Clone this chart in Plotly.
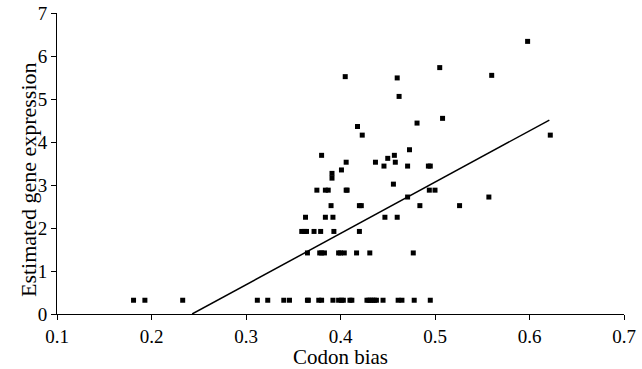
import plotly.graph_objects as go

# Scatter data: codon bias (x) and estimated gene expression (y)
row_032_x = [0.181, 0.193, 0.233, 0.312, 0.323, 0.340, 0.346, 0.365, 0.366, 0.377, 0.380,
             0.392, 0.398, 0.401, 0.403, 0.410, 0.412, 0.428, 0.430, 0.432, 0.434, 0.436,
             0.438, 0.445, 0.461, 0.465, 0.478, 0.495]
row_142_x = [0.365, 0.378, 0.380, 0.383, 0.398, 0.400, 0.404, 0.417, 0.431, 0.477]
row_192_x = [0.359, 0.362, 0.364, 0.372, 0.379, 0.393, 0.420]
row_225_x = [0.363, 0.384, 0.392, 0.447, 0.460]
row_252_x = [0.390, 0.420, 0.422, 0.484, 0.526]
row_272_x = [0.471, 0.557]
row_288_x = [0.375, 0.384, 0.387, 0.406, 0.407, 0.494, 0.500]
other_x = [0.456, 0.391, 0.391, 0.401, 0.446, 0.471, 0.493, 0.495, 0.406, 0.437, 0.458,
           0.450, 0.380, 0.457, 0.473, 0.622, 0.423, 0.418, 0.481, 0.508, 0.462, 0.460,
           0.405, 0.560, 0.505, 0.598]
other_y = [3.02, 3.16, 3.27, 3.35, 3.44, 3.44, 3.44, 3.44, 3.53, 3.53, 3.53,
           3.62, 3.69, 3.69, 3.82, 4.16, 4.16, 4.36, 4.44, 4.55, 5.06, 5.49,
           5.52, 5.55, 5.73, 6.34]

row_levels = [0.32, 1.42, 1.92, 2.25, 2.52, 2.72, 2.88]
row_lists = [row_032_x, row_142_x, row_192_x, row_225_x, row_252_x, row_272_x, row_288_x]

# Regression line end points
trend_x = [0.243, 0.621]
trend_y = [0.0, 4.51]

x_ticks = [0.1, 0.2, 0.3, 0.4, 0.5, 0.6, 0.7]
y_ticks = [0, 1, 2, 3, 4, 5, 6, 7]

x_title = "Codon bias"
y_title = "Estimated gene expression"

xs, ys = [], []
for lvl, lst in zip(row_levels, row_lists):
    xs += lst
    ys += [lvl] * len(lst)
xs += other_x
ys += other_y

FONT = "Liberation Serif"

fig = go.Figure()
fig.add_trace(go.Scatter(x=trend_x, y=trend_y, mode="lines",
                         line=dict(color="black", width=1.5), showlegend=False,
                         hoverinfo="skip"))
fig.add_trace(go.Scatter(x=xs, y=ys, mode="markers",
                         marker=dict(symbol="square", size=5, color="black",
                                     line=dict(width=0)),
                         showlegend=False))

fig.add_annotation(text=y_title, textangle=-90, xref="paper", yref="paper",
                   x=0, y=0.445, xanchor="center", yanchor="middle", xshift=-29,
                   showarrow=False, font=dict(family=FONT, size=22, color="black"))

fig.update_layout(
    width=642, height=369,
    margin=dict(l=57, r=18, t=13, b=55),
    paper_bgcolor="white", plot_bgcolor="white",
    font=dict(family=FONT, color="black", size=19),
    xaxis=dict(range=[0.1, 0.7], tickvals=x_ticks, ticktext=[str(v) for v in x_ticks],
               showgrid=False, zeroline=False, showline=True, linecolor="black",
               linewidth=1, ticks="outside", ticklen=5, tickcolor="black",
               automargin=False,
               tickfont=dict(family=FONT, size=19),
               title=dict(text=x_title, font=dict(family=FONT, size=21), standoff=2)),
    yaxis=dict(range=[0, 7], tickvals=y_ticks, ticktext=[str(v) for v in y_ticks],
               showgrid=False, zeroline=False, showline=True, linecolor="black",
               linewidth=1, ticks="outside", ticklen=5, tickcolor="black",
               automargin=False,
               tickfont=dict(family=FONT, size=19)),
)

fig.write_html("out.html", config={"displayModeBar": False},
               post_script="document.body.style.margin='0';document.body.style.overflow='hidden';")
